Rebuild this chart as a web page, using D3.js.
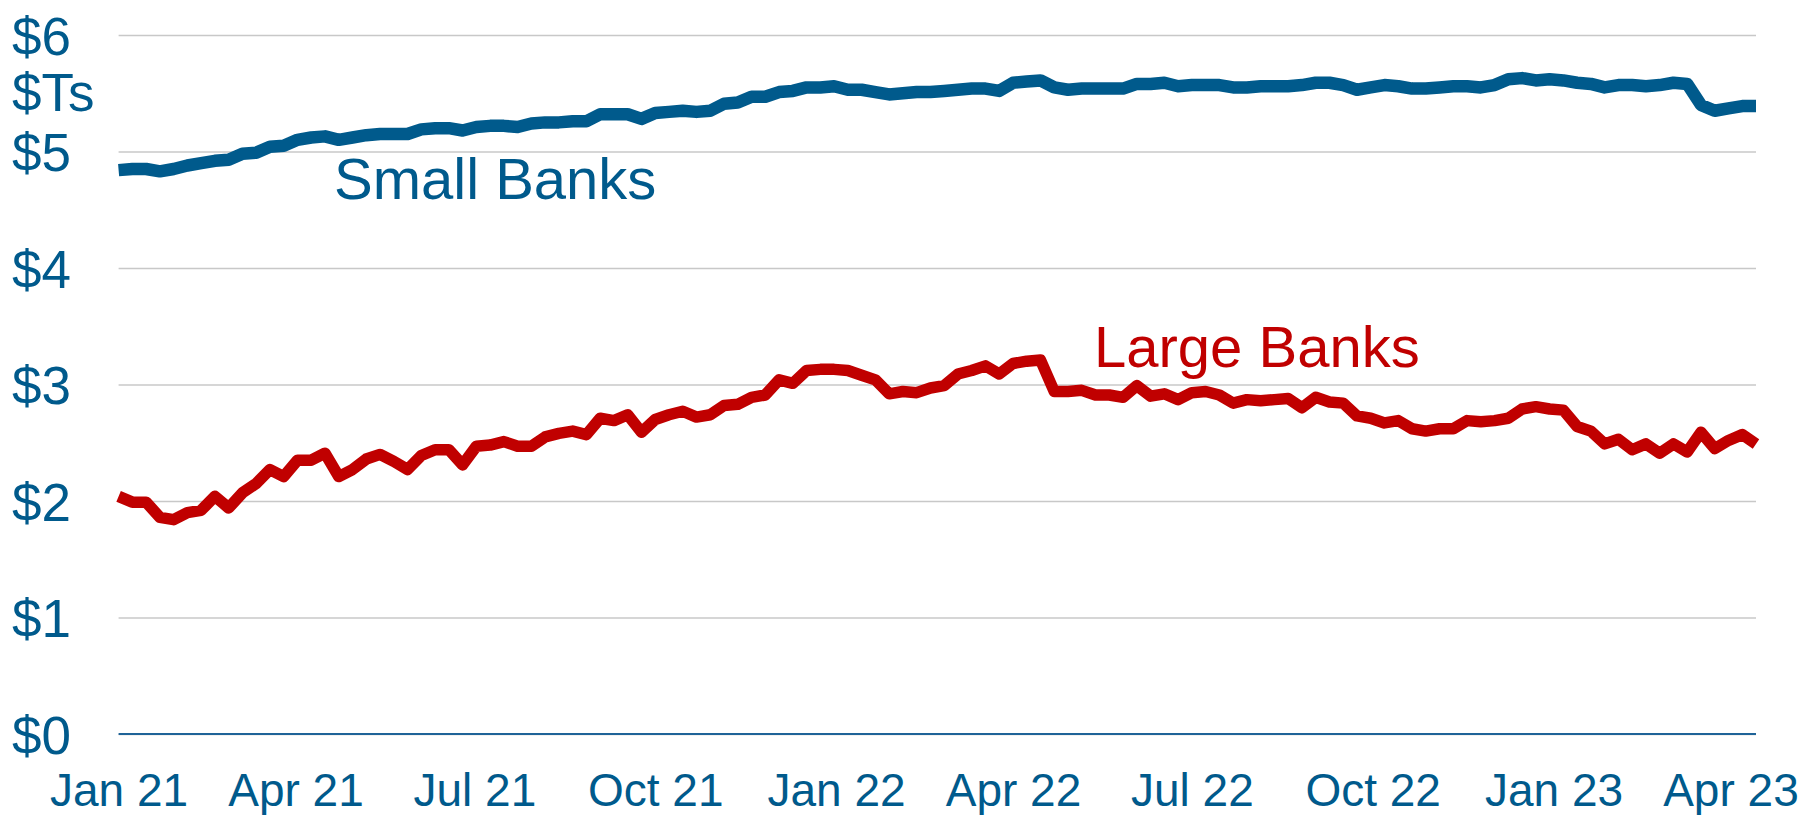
<!DOCTYPE html>
<html>
<head>
<meta charset="utf-8">
<script src="https://cdn.jsdelivr.net/npm/d3@7"></script>
<style>
  body { margin: 0; background: #ffffff; }
  text { font-family: "Liberation Sans", Arial, sans-serif; }
</style>
</head>
<body>
<div id="banks_chart"></div>
<script>
// ===== weekly series, $ trillions (one value per Friday) =====
var firstWeek = "2021-01-01";
var lastWeek = "2023-04-14";

var smallBanks = [
  4.84, 4.85, 4.85, 4.83, 4.85, 4.88, 4.90, 4.92, 4.93, 4.98,
  4.99, 5.04, 5.05, 5.10, 5.12, 5.13, 5.10, 5.12, 5.14, 5.15,
  5.15, 5.15, 5.19, 5.20, 5.20, 5.18, 5.21, 5.22, 5.22, 5.21,
  5.24, 5.25, 5.25, 5.26, 5.26, 5.32, 5.32, 5.32, 5.28, 5.33,
  5.34, 5.35, 5.34, 5.35, 5.41, 5.42, 5.47, 5.47, 5.51, 5.52,
  5.55, 5.55, 5.56, 5.53, 5.53, 5.51, 5.49, 5.50, 5.51, 5.51,
  5.52, 5.53, 5.54, 5.54, 5.52, 5.59, 5.60, 5.61, 5.55, 5.53,
  5.54, 5.54, 5.54, 5.54, 5.58, 5.58, 5.59, 5.56, 5.57, 5.57,
  5.57, 5.55, 5.55, 5.56, 5.56, 5.56, 5.57, 5.59, 5.59, 5.57,
  5.53, 5.55, 5.57, 5.56, 5.54, 5.54, 5.55, 5.56, 5.56, 5.55,
  5.57, 5.62, 5.63, 5.61, 5.62, 5.61, 5.59, 5.58, 5.55, 5.57,
  5.57, 5.56, 5.57, 5.59, 5.58, 5.40, 5.35, 5.37, 5.39, 5.39
];

var largeBanks = [
  2.04, 1.99, 1.99, 1.86, 1.84, 1.90, 1.92, 2.04, 1.94, 2.07,
  2.15, 2.27, 2.21, 2.35, 2.35, 2.41, 2.21, 2.27, 2.36, 2.40,
  2.34, 2.27, 2.39, 2.44, 2.44, 2.31, 2.47, 2.48, 2.51, 2.47,
  2.47, 2.55, 2.58, 2.60, 2.57, 2.71, 2.69, 2.74, 2.59, 2.70,
  2.74, 2.77, 2.72, 2.74, 2.82, 2.83, 2.89, 2.91, 3.04, 3.01,
  3.12, 3.13, 3.13, 3.12, 3.08, 3.04, 2.92, 2.94, 2.93, 2.97,
  2.99, 3.09, 3.12, 3.16, 3.09, 3.18, 3.20, 3.21, 2.94, 2.94,
  2.95, 2.91, 2.91, 2.89, 2.99, 2.90, 2.92, 2.87, 2.93, 2.94,
  2.91, 2.84, 2.87, 2.86, 2.87, 2.88, 2.80, 2.89, 2.85, 2.84,
  2.73, 2.71, 2.67, 2.69, 2.62, 2.60, 2.62, 2.62, 2.69, 2.68,
  2.69, 2.71, 2.79, 2.81, 2.79, 2.78, 2.64, 2.60, 2.49, 2.53,
  2.44, 2.49, 2.41, 2.49, 2.42, 2.59, 2.45, 2.52, 2.57, 2.49
];

// axis ticks
var quarterTicks = ["2021-01-01", "2021-04-01", "2021-07-01", "2021-10-01",
                    "2022-01-01", "2022-04-01", "2022-07-01", "2022-10-01",
                    "2023-01-01", "2023-04-01"];
var dollarTicks = [0, 1, 2, 3, 4, 5, 6];

var blue = "#005a8c";
var red = "#c00000";

function banks_chart()
{
  var w = 1818;
  var h = 815;

  // plot box
  var left = 118.6;
  var right = 1756;
  var top = 35;
  var bottom = 734;

  var parseDate = d3.timeParse("%Y-%m-%d");
  var weeks = d3.timeFriday.range(parseDate(firstWeek),
                                  d3.timeDay.offset(parseDate(lastWeek), 1));

  var svg = d3.select("#banks_chart")
              .append("svg")
              .attr("width", w)
              .attr("height", h);

  var x = d3.scaleTime()
            .domain([weeks[0], weeks[weeks.length - 1]])
            .range([left, right]);

  var y = d3.scaleLinear()
            .domain([0, 6])
            .range([bottom, top]);

  // gridlines + dollar labels
  var yAxis = svg.append("g")
                 .attr("transform", "translate(" + left + ",0)")
                 .call(d3.axisLeft(y)
                         .tickValues(dollarTicks)
                         .tickSize(-(right - left))
                         .tickFormat(function(d) { return "$" + d; }));

  yAxis.select(".domain").remove();
  yAxis.selectAll("line")
       .attr("stroke", "#c8c8c8")
       .attr("stroke-width", 1.5);
  yAxis.selectAll("text")
       .attr("x", 12 - left)
       .attr("dy", "0.36em")
       .attr("text-anchor", "start")
       .attr("fill", blue)
       .attr("font-size", "53px");

  // units label under $6
  svg.append("text")
     .attr("x", 12)
     .attr("y", 111)
     .attr("fill", blue)
     .attr("font-size", "53px")
     .text("$Ts");

  // zero line
  svg.append("line")
     .attr("x1", left)
     .attr("x2", right)
     .attr("y1", y(0))
     .attr("y2", y(0))
     .attr("stroke", "#1f6398")
     .attr("stroke-width", 2);

  // date axis
  var xAxis = svg.append("g")
                 .attr("transform", "translate(0," + bottom + ")")
                 .call(d3.axisBottom(x)
                         .tickValues(quarterTicks.map(parseDate))
                         .tickSize(0)
                         .tickFormat(d3.timeFormat("%b %y")));

  xAxis.select(".domain").remove();
  xAxis.selectAll("text")
       .attr("y", 72)
       .attr("dy", null)
       .attr("fill", blue)
       .attr("font-size", "46px");

  var line = d3.line()
               .x(function(d, i) { return x(weeks[i]); })
               .y(function(d) { return y(d); });

  svg.append("path")
     .datum(largeBanks)
     .attr("d", line)
     .attr("fill", "none")
     .attr("stroke", red)
     .attr("stroke-width", 11.5)
     .attr("stroke-linejoin", "round");

  svg.append("path")
     .datum(smallBanks)
     .attr("d", line)
     .attr("fill", "none")
     .attr("stroke", blue)
     .attr("stroke-width", 12.5)
     .attr("stroke-linejoin", "round");

  // series labels
  svg.append("text")
     .attr("x", 334)
     .attr("y", 199)
     .attr("fill", blue)
     .attr("font-size", "58px")
     .text("Small Banks");

  svg.append("text")
     .attr("x", 1094)
     .attr("y", 367)
     .attr("fill", red)
     .attr("font-size", "58px")
     .text("Large Banks");
}

banks_chart();
</script>
</body>
</html>
